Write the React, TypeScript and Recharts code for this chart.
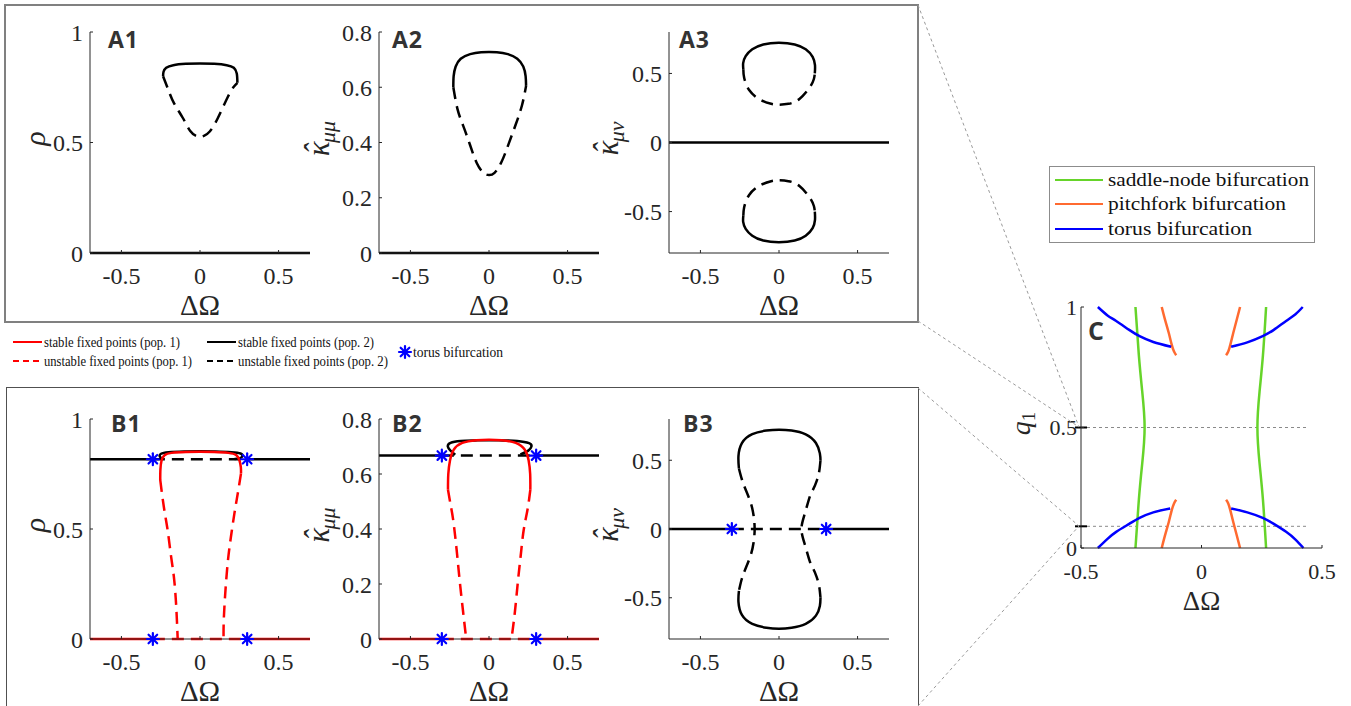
import React from "react";
import { ComposedChart, Line, Scatter, XAxis, YAxis, ReferenceLine } from "recharts";

const SERIF = "Liberation Serif, DejaVu Serif, Times New Roman, serif";
const SANS = "Open Sans, Liberation Sans, Arial, sans-serif";
const INK = "#262626";
const RED = "#ff0000";
const BLACK = "#000000";
const BLUE = "#0000ff";
const GREEN = "#66d42a";
const ORANGE = "#ff6a30";
const DASH = "12 7";

type Pt = [number, number];

// shared axis ticks
const abXTicks = [-0.5, 0, 0.5];
const rhoTicks = [0, 0.5, 1];
const kmmTicks = [0, 0.2, 0.4, 0.6, 0.8];
const kmnTicks = [-0.5, 0, 0.5];
const cXTicks = [-0.5, 0, 0.5];
const cYTicks = [0, 0.5, 1];

// row A (no coupling between pops)
const zeroFull: Pt[] = [[-0.7, 0], [0.7, 0]];
const a1Stable: Pt[] = [[-0.235, 0.8], [-0.232, 0.82], [-0.215, 0.838], [-0.17, 0.85], [-0.09, 0.856], [0, 0.858], [0.09, 0.856], [0.17, 0.85], [0.215, 0.838], [0.234, 0.812], [0.238, 0.77]];
const a1Unstable: Pt[] = [[-0.235, 0.8], [-0.2, 0.735], [-0.164, 0.676], [-0.11, 0.612], [-0.062, 0.552], [-0.025, 0.53], [0, 0.526], [0.025, 0.53], [0.062, 0.55], [0.113, 0.61], [0.176, 0.705], [0.215, 0.752], [0.238, 0.77]];
const a2Stable: Pt[] = [[-0.227, 0.6], [-0.225, 0.64], [-0.212, 0.675], [-0.18, 0.703], [-0.12, 0.72], [-0.05, 0.727], [0, 0.728], [0.05, 0.727], [0.12, 0.72], [0.18, 0.703], [0.218, 0.675], [0.233, 0.64], [0.236, 0.605]];
const a2Unstable: Pt[] = [[-0.227, 0.6], [-0.2, 0.52], [-0.164, 0.46], [-0.12, 0.39], [-0.078, 0.326], [-0.035, 0.29], [0, 0.282], [0.035, 0.29], [0.08, 0.33], [0.125, 0.395], [0.17, 0.465], [0.21, 0.535], [0.236, 0.605]];
const a3UpStable: Pt[] = [[-0.227, 0.53], [-0.228, 0.575], [-0.212, 0.625], [-0.17, 0.675], [-0.1, 0.71], [0, 0.722], [0.1, 0.71], [0.17, 0.675], [0.214, 0.62], [0.229, 0.56], [0.228, 0.5]];
const a3UpUnstable: Pt[] = [[-0.227, 0.53], [-0.222, 0.47], [-0.19, 0.38], [-0.12, 0.31], [-0.05, 0.28], [0, 0.274], [0.06, 0.28], [0.13, 0.315], [0.196, 0.4], [0.222, 0.46], [0.228, 0.5]];
const a3LoStable: Pt[] = [[-0.227, -0.53], [-0.228, -0.575], [-0.212, -0.625], [-0.17, -0.675], [-0.1, -0.71], [0, -0.722], [0.1, -0.71], [0.17, -0.675], [0.214, -0.62], [0.229, -0.56], [0.228, -0.5]];
const a3LoUnstable: Pt[] = [[-0.227, -0.53], [-0.222, -0.47], [-0.19, -0.38], [-0.12, -0.31], [-0.05, -0.28], [0, -0.274], [0.06, -0.28], [0.13, -0.315], [0.196, -0.4], [0.222, -0.46], [0.228, -0.5]];

// row B (coupled pops)
const b1P2Left: Pt[] = [[-0.7, 0.817], [-0.3, 0.817]];
const b1P2Right: Pt[] = [[0.3, 0.817], [0.7, 0.817]];
const b1P2Mid: Pt[] = [[-0.3, 0.817], [0.3, 0.817]];
const b1P2Loop: Pt[] = [[-0.24, 0.82], [-0.256, 0.83], [-0.248, 0.842], [-0.2, 0.849], [-0.1, 0.852], [0, 0.853], [0.1, 0.852], [0.2, 0.849], [0.258, 0.843], [0.27, 0.832], [0.255, 0.822], [0.22, 0.818]];
const b1P1Stable: Pt[] = [[-0.253, 0.723], [-0.252, 0.77], [-0.245, 0.81], [-0.226, 0.835], [-0.18, 0.846], [-0.09, 0.85], [0, 0.851], [0.09, 0.85], [0.18, 0.846], [0.232, 0.835], [0.252, 0.81], [0.26, 0.78], [0.261, 0.753]];
const b1P1UnstL: Pt[] = [[-0.253, 0.723], [-0.23, 0.6], [-0.206, 0.495], [-0.185, 0.38], [-0.164, 0.268], [-0.15, 0.13], [-0.142, 0]];
const b1P1UnstR: Pt[] = [[0.261, 0.753], [0.24, 0.66], [0.219, 0.571], [0.196, 0.46], [0.176, 0.344], [0.16, 0.2], [0.151, 0.08], [0.15, 0]];
const zeroLeft: Pt[] = [[-0.7, 0], [-0.3, 0]];
const zeroRight: Pt[] = [[0.3, 0], [0.7, 0]];
const zeroMid: Pt[] = [[-0.3, 0], [0.3, 0]];
const b1Torus: Pt[] = [[-0.3, 0.817], [0.3, 0.817], [-0.3, 0], [0.3, 0]];

const b2P2Left: Pt[] = [[-0.7, 0.667], [-0.3, 0.667]];
const b2P2Right: Pt[] = [[0.3, 0.667], [0.7, 0.667]];
const b2P2Mid: Pt[] = [[-0.3, 0.667], [0.3, 0.667]];
const b2P2Loop: Pt[] = [[-0.215, 0.67], [-0.245, 0.685], [-0.262, 0.7], [-0.245, 0.713], [-0.18, 0.72], [-0.09, 0.722], [0, 0.723], [0.09, 0.722], [0.18, 0.72], [0.255, 0.712], [0.27, 0.7], [0.25, 0.685], [0.2, 0.671]];
const b2P1Stable: Pt[] = [[-0.261, 0.543], [-0.259, 0.6], [-0.248, 0.65], [-0.225, 0.688], [-0.17, 0.713], [-0.08, 0.723], [0, 0.725], [0.08, 0.723], [0.17, 0.713], [0.228, 0.688], [0.252, 0.65], [0.262, 0.6], [0.263, 0.543]];
const b2P1UnstL: Pt[] = [[-0.261, 0.543], [-0.245, 0.49], [-0.228, 0.433], [-0.207, 0.33], [-0.187, 0.215], [-0.165, 0.1], [-0.145, 0]];
const b2P1UnstR: Pt[] = [[0.263, 0.543], [0.245, 0.47], [0.221, 0.397], [0.203, 0.31], [0.185, 0.215], [0.165, 0.1], [0.143, 0]];
const b2Torus: Pt[] = [[-0.3, 0.667], [0.3, 0.667], [-0.3, 0], [0.3, 0]];

const b3TopStable: Pt[] = [[-0.255, 0.44], [-0.258, 0.53], [-0.236, 0.625], [-0.17, 0.69], [-0.08, 0.716], [0, 0.722], [0.08, 0.716], [0.17, 0.688], [0.235, 0.625], [0.26, 0.55], [0.264, 0.5]];
const b3BotStable: Pt[] = [[-0.255, -0.45], [-0.258, -0.53], [-0.236, -0.625], [-0.17, -0.69], [-0.08, -0.718], [0, -0.725], [0.08, -0.718], [0.17, -0.69], [0.235, -0.63], [0.26, -0.56], [0.264, -0.5]];
const b3LeftUnst: Pt[] = [[-0.255, 0.44], [-0.236, 0.36], [-0.21, 0.28], [-0.18, 0.19], [-0.162, 0.1], [-0.155, 0], [-0.162, -0.1], [-0.18, -0.19], [-0.21, -0.28], [-0.236, -0.36], [-0.255, -0.45]];
const b3RightUnst: Pt[] = [[0.264, 0.5], [0.256, 0.42], [0.24, 0.35], [0.218, 0.29], [0.196, 0.236], [0.165, 0.115], [0.143, 0], [0.165, -0.115], [0.196, -0.236], [0.218, -0.29], [0.24, -0.35], [0.256, -0.42], [0.264, -0.5]];
const b3Torus: Pt[] = [[-0.3, 0], [0.3, 0]];

// panel C: bifurcation curves in (ΔΩ, q1)
const cSaddleL: Pt[] = [[-0.274, 1.0], [-0.26, 0.8], [-0.246, 0.65], [-0.236, 0.5], [-0.246, 0.35], [-0.26, 0.2], [-0.274, 0]];
const cSaddleR: Pt[] = [[0.268, 1.0], [0.255, 0.8], [0.241, 0.65], [0.232, 0.5], [0.241, 0.35], [0.255, 0.2], [0.268, 0]];
const cPitchTL: Pt[] = [[-0.165, 1.0], [-0.152, 0.95], [-0.136, 0.893], [-0.124, 0.845], [-0.114, 0.815], [-0.105, 0.8]];
const cPitchTR: Pt[] = [[0.16, 1.0], [0.147, 0.95], [0.132, 0.893], [0.12, 0.845], [0.111, 0.815], [0.102, 0.8]];
const cPitchBL: Pt[] = [[-0.165, 0], [-0.152, 0.05], [-0.136, 0.107], [-0.124, 0.155], [-0.114, 0.185], [-0.105, 0.2]];
const cPitchBR: Pt[] = [[0.16, 0], [0.147, 0.05], [0.132, 0.107], [0.12, 0.155], [0.111, 0.185], [0.102, 0.2]];
const cTorusTL: Pt[] = [[-0.43, 1.0], [-0.39, 0.965], [-0.354, 0.942], [-0.3, 0.905], [-0.257, 0.879], [-0.2, 0.855], [-0.126, 0.835]];
const cTorusTR: Pt[] = [[0.123, 0.835], [0.19, 0.853], [0.254, 0.879], [0.3, 0.905], [0.351, 0.942], [0.39, 0.97], [0.42, 1.0]];
const cTorusBL: Pt[] = [[-0.43, 0], [-0.39, 0.038], [-0.354, 0.067], [-0.3, 0.1], [-0.257, 0.125], [-0.2, 0.148], [-0.13, 0.164]];
const cTorusBR: Pt[] = [[0.123, 0.164], [0.19, 0.148], [0.254, 0.125], [0.3, 0.1], [0.351, 0.067], [0.39, 0.035], [0.423, 0]];
const cSlices = [0.5, 0.09];

type Series = { pts: Pt[]; color: string; dashed?: boolean; straight?: boolean; width?: number };
type PanelCfg = {
  id: string;
  left: number;
  top: number;
  w: number;
  h: number;
  xDomain: [number, number];
  xTicks: number[];
  yDomain: [number, number];
  yTicks: number[];
  tickFont: number;
  yTickMargin: number;
  xTickMargin: number;
  xLabSize: number;
  xLabDy: number;
  yLab: string;
  yLabX: number;
  series: Series[];
  stars?: Pt[];
  slices?: number[];
};

const YW = 90;
const MT = 16;
const MR = 14;
const XH = 70;

const toXY = (pts: Pt[]) => pts.map(([x, y]) => ({ x, y }));

function Star({ cx, cy, r = 6 }: { cx: number; cy: number; r?: number }) {
  const d = r * 0.72;
  return (
    <g stroke={BLUE} strokeWidth={2.2} strokeLinecap="round">
      <line x1={cx - r} y1={cy} x2={cx + r} y2={cy} />
      <line x1={cx} y1={cy - r} x2={cx} y2={cy + r} />
      <line x1={cx - d} y1={cy - d} x2={cx + d} y2={cy + d} />
      <line x1={cx - d} y1={cy + d} x2={cx + d} y2={cy - d} />
    </g>
  );
}

function YLabel({ kind, x, y }: { kind: string; x: number; y: number }) {
  const t = `rotate(-90 ${x} ${y})`;
  if (kind === "rho")
    return (
      <text x={x} y={y} transform={t} textAnchor="middle" fontFamily={SERIF} fontStyle="italic" fontSize={30} fill={INK}>
        ρ
      </text>
    );
  if (kind === "q1")
    return (
      <text x={x} y={y} transform={t} textAnchor="middle" fontFamily={SERIF} fontSize={28} fill={INK}>
        <tspan fontStyle="italic">q</tspan>
        <tspan fontSize={19} dy={5}>1</tspan>
      </text>
    );
  const sub = kind === "kmm" ? "μμ" : "μν";
  return (
    <text x={x} y={y} transform={t} textAnchor="middle" fontFamily={SERIF} fontStyle="italic" fontSize={31} fill={INK}>
      κ
      <tspan dx={-13} dy={-3}>ˆ</tspan>
      <tspan fontSize={22} dx={1} dy={9}>{sub}</tspan>
    </text>
  );
}

function Panel({ cfg }: { cfg: PanelCfg }) {
  const W = YW + cfg.w + MR;
  const H = MT + cfg.h + XH;
  const ox = cfg.left - YW;
  const oy = cfg.top - MT;
  const axisLine = { stroke: INK, strokeWidth: 1 };
  return (
    <div style={{ position: "absolute", left: ox, top: oy, width: W, height: H }}>
      <ComposedChart width={W} height={H} margin={{ top: MT, right: MR, bottom: 0, left: 0 }}>
        <XAxis
          type="number"
          dataKey="x"
          domain={cfg.xDomain}
          ticks={cfg.xTicks}
          interval={0}
          height={XH}
          tickSize={-3}
          tickMargin={cfg.xTickMargin}
          axisLine={axisLine}
          tickLine={axisLine}
          tick={{ fill: INK, fontSize: cfg.tickFont, fontFamily: SERIF }}
          label={() => (
            <text x={YW + cfg.w / 2} y={MT + cfg.h + cfg.xLabDy} textAnchor="middle" fontFamily={SERIF} fontSize={cfg.xLabSize} fill={INK}>
              ΔΩ
            </text>
          )}
        />
        <YAxis
          type="number"
          dataKey="y"
          domain={cfg.yDomain}
          ticks={cfg.yTicks}
          interval={0}
          width={YW}
          tickSize={-3}
          tickMargin={cfg.yTickMargin}
          axisLine={axisLine}
          tickLine={axisLine}
          tick={{ fill: INK, fontSize: cfg.tickFont, fontFamily: SERIF }}
          label={() => <YLabel kind={cfg.yLab} x={cfg.yLabX - ox} y={MT + cfg.h / 2 - 4} />}
        />
        {(cfg.slices || []).map((q) => (
          <ReferenceLine
            key={`s${q}`}
            segment={[{ x: -0.5, y: q }, { x: 0.445, y: q }]}
            stroke="#8a8a8a"
            strokeDasharray="3 3"
            strokeWidth={1}
          />
        ))}
        {(cfg.slices || []).map((q) => (
          <ReferenceLine
            key={`t${q}`}
            segment={[{ x: -0.525, y: q }, { x: -0.475, y: q }]}
            stroke={BLACK}
            strokeWidth={2}
            ifOverflow="visible"
          />
        ))}
        {cfg.series.map((s, i) => (
          <Line
            key={`${cfg.id}-${i}`}
            data={toXY(s.pts)}
            dataKey="y"
            type={s.straight ? "linear" : "natural"}
            stroke={s.color}
            strokeWidth={s.width ?? 2.5}
            strokeDasharray={s.dashed ? DASH : undefined}
            dot={false}
            activeDot={false}
            isAnimationActive={false}
          />
        ))}
        {cfg.stars && (
          <Scatter
            data={toXY(cfg.stars)}
            isAnimationActive={false}
            shape={(p: any) => <Star cx={p.cx} cy={p.cy} />}
          />
        )}
      </ComposedChart>
    </div>
  );
}

const common = {
  w: 220,
  xDomain: [-0.7, 0.7] as [number, number],
  xTicks: abXTicks,
  tickFont: 24,
  yTickMargin: 10,
  xTickMargin: 17,
  xLabSize: 29,
  xLabDy: 62,
};

const panels: PanelCfg[] = [
  {
    ...common, id: "A1", left: 90, top: 32, h: 221, yDomain: [0, 1], yTicks: rhoTicks, yLab: "rho", yLabX: 45,
    series: [
      { pts: zeroFull, color: BLACK, straight: true },
      { pts: a1Stable, color: BLACK },
      { pts: a1Unstable, color: BLACK, dashed: true },
    ],
  },
  {
    ...common, id: "A2", left: 379, top: 32, h: 221, yDomain: [0, 0.8], yTicks: kmmTicks, yLab: "kmm", yLabX: 329,
    series: [
      { pts: zeroFull, color: BLACK, straight: true },
      { pts: a2Stable, color: BLACK },
      { pts: a2Unstable, color: BLACK, dashed: true },
    ],
  },
  {
    ...common, id: "A3", left: 669, top: 32, h: 221, yDomain: [-0.8, 0.8], yTicks: kmnTicks, yLab: "kmn", yLabX: 618,
    series: [
      { pts: zeroFull, color: BLACK, straight: true },
      { pts: a3UpStable, color: BLACK },
      { pts: a3UpUnstable, color: BLACK, dashed: true },
      { pts: a3LoStable, color: BLACK },
      { pts: a3LoUnstable, color: BLACK, dashed: true },
    ],
  },
  {
    ...common, id: "B1", left: 90, top: 419, h: 220, yDomain: [0, 1], yTicks: rhoTicks, yLab: "rho", yLabX: 45,
    series: [
      { pts: b1P2Left, color: BLACK, straight: true },
      { pts: b1P2Right, color: BLACK, straight: true },
      { pts: b1P2Mid, color: BLACK, straight: true, dashed: true },
      { pts: b1P2Loop, color: BLACK },
      { pts: zeroLeft, color: RED, straight: true },
      { pts: zeroRight, color: RED, straight: true },
      { pts: zeroMid, color: RED, straight: true, dashed: true },
      { pts: b1P1Stable, color: RED },
      { pts: b1P1UnstL, color: RED, dashed: true },
      { pts: b1P1UnstR, color: RED, dashed: true },
    ],
    stars: b1Torus,
  },
  {
    ...common, id: "B2", left: 379, top: 419, h: 220, yDomain: [0, 0.8], yTicks: kmmTicks, yLab: "kmm", yLabX: 329,
    series: [
      { pts: b2P2Left, color: BLACK, straight: true },
      { pts: b2P2Right, color: BLACK, straight: true },
      { pts: b2P2Mid, color: BLACK, straight: true, dashed: true },
      { pts: b2P2Loop, color: BLACK },
      { pts: zeroLeft, color: RED, straight: true },
      { pts: zeroRight, color: RED, straight: true },
      { pts: zeroMid, color: RED, straight: true, dashed: true },
      { pts: b2P1Stable, color: RED },
      { pts: b2P1UnstL, color: RED, dashed: true },
      { pts: b2P1UnstR, color: RED, dashed: true },
    ],
    stars: b2Torus,
  },
  {
    ...common, id: "B3", left: 669, top: 419, h: 220, yDomain: [-0.8, 0.8], yTicks: kmnTicks, yLab: "kmn", yLabX: 618,
    series: [
      { pts: zeroLeft, color: BLACK, straight: true },
      { pts: zeroRight, color: BLACK, straight: true },
      { pts: zeroMid, color: BLACK, straight: true, dashed: true },
      { pts: b3TopStable, color: BLACK },
      { pts: b3BotStable, color: BLACK },
      { pts: b3LeftUnst, color: BLACK, dashed: true },
      { pts: b3RightUnst, color: BLACK, dashed: true },
    ],
    stars: b3Torus,
  },
  {
    id: "C", left: 1081, top: 307, w: 241, h: 241,
    xDomain: [-0.5, 0.5], xTicks: cXTicks, yDomain: [0, 1], yTicks: cYTicks,
    tickFont: 22, yTickMargin: 7, xTickMargin: 18, xLabSize: 27, xLabDy: 62, yLab: "q1", yLabX: 1030,
    slices: cSlices,
    series: [
      { pts: cSaddleL, color: GREEN },
      { pts: cSaddleR, color: GREEN },
      { pts: cPitchTL, color: ORANGE },
      { pts: cPitchTR, color: ORANGE },
      { pts: cPitchBL, color: ORANGE },
      { pts: cPitchBR, color: ORANGE },
      { pts: cTorusTL, color: BLUE },
      { pts: cTorusTR, color: BLUE },
      { pts: cTorusBL, color: BLUE },
      { pts: cTorusBR, color: BLUE },
    ],
  },
];

const titles: { t: string; x: number; y: number; s: number }[] = [
  { t: "A1", x: 108, y: 48, s: 23 },
  { t: "A2", x: 392, y: 48, s: 23 },
  { t: "A3", x: 679, y: 48, s: 23 },
  { t: "B1", x: 111, y: 432, s: 23 },
  { t: "B2", x: 392, y: 432, s: 23 },
  { t: "B3", x: 683, y: 432, s: 23 },
  { t: "C", x: 1088, y: 340, s: 25 },
];

const popLegend = [
  { label: "stable fixed points (pop. 1)", color: RED, dashed: false, x: 13, y: 342, len: 136 },
  { label: "unstable fixed points (pop. 1)", color: RED, dashed: true, x: 13, y: 361, len: 148 },
  { label: "stable fixed points (pop. 2)", color: BLACK, dashed: false, x: 207, y: 342, len: 136 },
  { label: "unstable fixed points (pop. 2)", color: BLACK, dashed: true, x: 207, y: 361, len: 150 },
];

const bifLegend = [
  { label: "saddle-node bifurcation", color: GREEN, y: 180, len: 201 },
  { label: "pitchfork bifurcation", color: ORANGE, y: 204, len: 178 },
  { label: "torus bifurcation", color: BLUE, y: 229, len: 144 },
];

export default function App() {
  return (
    <div style={{ position: "absolute", left: 0, top: 0, width: 1351, height: 706, background: "#fff", overflow: "hidden", fontFamily: SERIF }}>
      <div style={{ position: "absolute", left: 4, top: 4, width: 911, height: 315, border: "2px solid #808080" }} />
      <div style={{ position: "absolute", left: 6, top: 387, width: 911, height: 340, border: "1px solid #505050" }} />
      {panels.map((p) => (
        <Panel key={p.id} cfg={p} />
      ))}
      <svg width={1351} height={706} style={{ position: "absolute", left: 0, top: 0, pointerEvents: "none" }}>
        <g stroke="#9a9a9a" strokeWidth={1} strokeDasharray="3 3">
          <line x1={918} y1={5} x2={1079} y2={427} />
          <line x1={918} y1={321} x2={1079} y2={427} />
          <line x1={918} y1={388} x2={1079} y2={526} />
          <line x1={918} y1={706} x2={1079} y2={526} />
        </g>
        {titles.map((t) => (
          <text key={t.t} x={t.x} y={t.y} fontFamily={SANS} fontWeight={700} fontSize={t.s} letterSpacing={1} fill="#333">
            {t.t}
          </text>
        ))}
        {popLegend.map((l) => (
          <g key={l.label}>
            <line x1={l.x} y1={l.y} x2={l.x + 29} y2={l.y} stroke={l.color} strokeWidth={2} strokeDasharray={l.dashed ? "6 4" : undefined} />
            <text x={l.x + 31} y={l.y + 5} fontFamily={SERIF} fontSize={14.5} fill="#111" textLength={l.len} lengthAdjust="spacingAndGlyphs">
              {l.label}
            </text>
          </g>
        ))}
        <Star cx={405} cy={352} r={6} />
        <text x={413} y={357} fontFamily={SERIF} fontSize={15} fill="#111" textLength={90} lengthAdjust="spacingAndGlyphs">
          torus bifurcation
        </text>
        <rect x={1049.5} y={166.5} width={265} height={76} fill="#fff" stroke="#8c8c8c" strokeWidth={1} />
        {bifLegend.map((l) => (
          <g key={l.label}>
            <line x1={1055} y1={l.y} x2={1103} y2={l.y} stroke={l.color} strokeWidth={2} />
            <text x={1108} y={l.y + 6} fontFamily={SERIF} fontSize={18} fill="#111" textLength={l.len} lengthAdjust="spacingAndGlyphs">
              {l.label}
            </text>
          </g>
        ))}
      </svg>
    </div>
  );
}
